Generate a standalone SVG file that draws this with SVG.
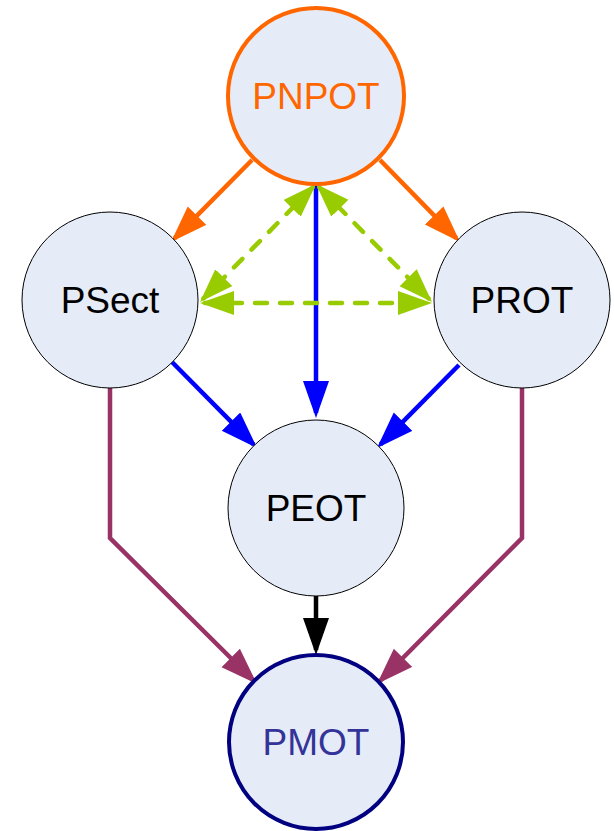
<svg xmlns="http://www.w3.org/2000/svg" width="614" height="831" viewBox="0 0 614 831">
<style>
.node{fill:#E6ECF7;stroke:#000;stroke-width:1}
.lbl{font-family:"Liberation Sans",Arial,sans-serif;font-size:37px;text-anchor:middle}
.c{fill:none;stroke-width:4.5}
.g{fill:none;stroke:#99CC00;stroke-width:4.5;stroke-dasharray:12 13;stroke-linecap:round}
</style>
<defs>
<marker id="aO" markerUnits="userSpaceOnUse" markerWidth="40" markerHeight="28" refX="32" refY="13" orient="auto"><path d="M0,0L37,13L0,26z" fill="#FF6600"/></marker>
<marker id="aB" markerUnits="userSpaceOnUse" markerWidth="40" markerHeight="28" refX="32" refY="13" orient="auto"><path d="M0,0L37,13L0,26z" fill="#0000FF"/></marker>
<marker id="aK" markerUnits="userSpaceOnUse" markerWidth="40" markerHeight="28" refX="32" refY="13" orient="auto"><path d="M0,0L37,13L0,26z" fill="#000"/></marker>
<marker id="aP" markerUnits="userSpaceOnUse" markerWidth="40" markerHeight="28" refX="32" refY="13" orient="auto"><path d="M0,0L37,13L0,26z" fill="#993366"/></marker>
<marker id="aG" markerUnits="userSpaceOnUse" markerWidth="40" markerHeight="28" refX="29" refY="12" orient="auto-start-reverse"><path d="M0,0L34,12L0,24z" fill="#99CC00"/></marker>
</defs>
<g id="connectors">
<line class="c" stroke="#FF6600" x1="252" y1="160" x2="174.5" y2="238.4" marker-end="url(#aO)"/>
<line class="c" stroke="#FF6600" x1="380" y1="160" x2="456.5" y2="238.4" marker-end="url(#aO)"/>
<line class="c" stroke="#0000FF" x1="316" y1="183" x2="316" y2="413" marker-end="url(#aB)"/>
<line class="c" stroke="#0000FF" x1="170" y1="360" x2="253.5" y2="444.4" marker-end="url(#aB)"/>
<line class="c" stroke="#0000FF" x1="459" y1="365" x2="380.5" y2="444.4" marker-end="url(#aB)"/>
<line class="c" stroke="#000" x1="316" y1="596" x2="316" y2="650" marker-end="url(#aK)"/>
<polyline class="c" stroke="#993366" points="110,388 110,538 253.4,680.5" marker-end="url(#aP)"/>
<polyline class="c" stroke="#993366" points="522,388 522,538 380.5,680.5" marker-end="url(#aP)"/>
<line class="g" x1="312.5" y1="187.6" x2="203.5" y2="298.4" marker-start="url(#aG)" marker-end="url(#aG)"/>
<line class="g" x1="319.5" y1="187.6" x2="428.5" y2="298.4" marker-start="url(#aG)" marker-end="url(#aG)"/>
<line class="g" x1="205" y1="303" x2="427" y2="303" marker-start="url(#aG)" marker-end="url(#aG)"/>
</g>
<g id="PNPOT">
<circle class="node" cx="316" cy="96" r="88" style="stroke:#FF6600;stroke-width:4"/>
<text class="lbl" x="316" y="109" fill="#FF6600">PNPOT</text>
</g>
<g id="PSect">
<circle class="node" cx="110" cy="300" r="88"/>
<text class="lbl" x="110" y="313" fill="#000">PSect</text>
</g>
<g id="PROT">
<circle class="node" cx="522" cy="300" r="88"/>
<text class="lbl" x="522" y="313" fill="#000">PROT</text>
</g>
<g id="PEOT">
<circle class="node" cx="316" cy="508" r="88"/>
<text class="lbl" x="316" y="521" fill="#000">PEOT</text>
</g>
<g id="PMOT">
<circle class="node" cx="316" cy="742" r="87" style="stroke:#000080;stroke-width:4"/>
<text class="lbl" x="316" y="755" fill="#333399">PMOT</text>
</g>
</svg>
